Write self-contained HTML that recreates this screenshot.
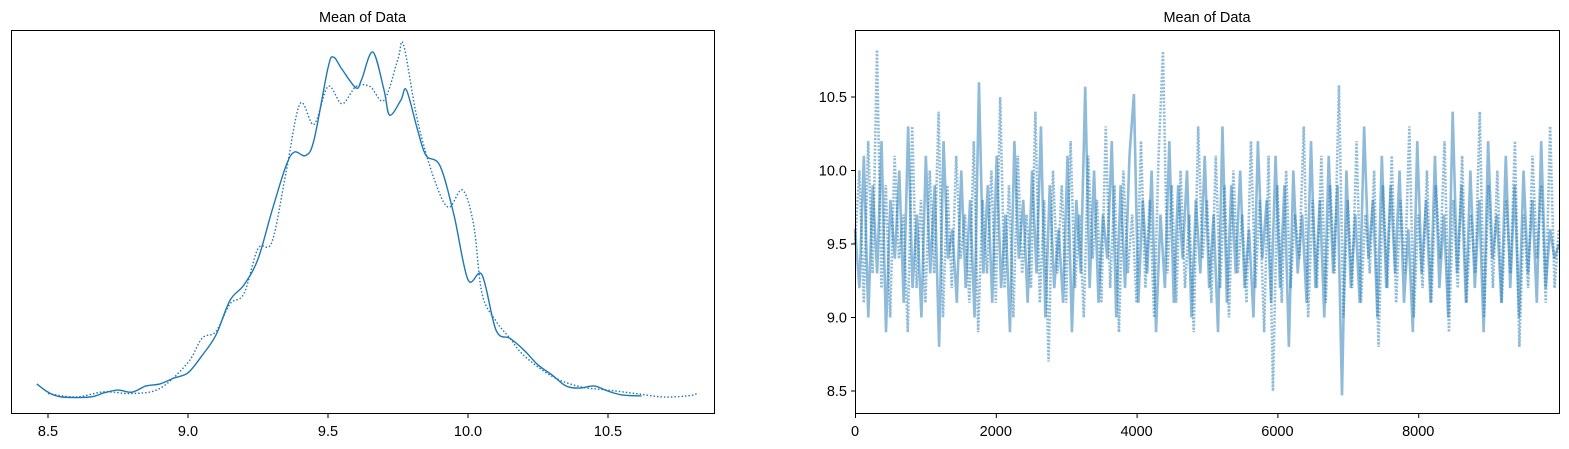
<!DOCTYPE html>
<html><head><meta charset="utf-8"><style>
html,body{margin:0;padding:0;background:#fff;}
svg{display:block;font-family:"Liberation Sans","DejaVu Sans",sans-serif;}
</style></head><body>
<svg id="fig" width="1569" height="449" viewBox="0 0 1569 449">
<g id="left"></g>
<g id="right"></g>
</svg>
<script>
// KDE chain 0 (solid)
const kdeX0 = [8.46,8.5,8.55,8.65,8.7,8.75,8.8,8.85,8.9,8.95,9.0,9.05,9.1,9.15,9.2,9.25,9.3,9.35,9.38,9.42,9.45,9.5,9.52,9.55,9.6,9.62,9.66,9.7,9.72,9.76,9.78,9.82,9.85,9.9,9.95,10.0,10.05,10.1,10.15,10.2,10.25,10.3,10.35,10.4,10.45,10.5,10.55,10.62];
const kdeY0 = [0.038,0.014,0,0,0.012,0.02,0.014,0.032,0.038,0.055,0.07,0.12,0.18,0.28,0.325,0.40,0.54,0.67,0.71,0.70,0.745,0.954,0.985,0.95,0.896,0.92,1.0,0.89,0.817,0.86,0.89,0.774,0.70,0.67,0.527,0.34,0.354,0.194,0.17,0.136,0.093,0.064,0.032,0.026,0.032,0.017,0.006,0.003];
// KDE chain 1 (dotted)
const kdeX1 = [8.5,8.6,8.7,8.8,8.9,9.0,9.05,9.1,9.15,9.2,9.25,9.3,9.35,9.4,9.45,9.5,9.55,9.6,9.65,9.7,9.75,9.77,9.82,9.88,9.93,9.98,10.02,10.05,10.1,10.15,10.2,10.3,10.4,10.5,10.6,10.7,10.8,10.82];
const kdeY1 = [0.01,0.0,0.015,0.01,0.025,0.1,0.17,0.19,0.27,0.3,0.43,0.45,0.65,0.85,0.79,0.9,0.85,0.9,0.9,0.86,0.98,1.02,0.8,0.63,0.55,0.6,0.5,0.3,0.22,0.17,0.12,0.06,0.03,0.02,0.01,0.0,0.005,0.015];
const kdeTicks = [8.5,9.0,9.5,10.0,10.5];
const kdeTickLabels = ["8.5","9.0","9.5","10.0","10.5"];
// trace samples (subsampled, estimated)
const traceA = [9.6,9.2,10.1,9.0,9.9,9.3,10.2,8.9,9.8,9.4,10.0,9.1,10.3,9.2,9.7,9.0,10.1,9.3,9.9,8.8,10.2,9.4,9.6,9.1,10.0,9.2,9.8,9.0,10.6,9.3,9.9,9.1,10.1,9.2,9.7,8.9,10.2,9.4,9.8,9.1,10.0,9.3,10.3,9.0,9.9,9.2,9.6,9.1,10.1,8.9,9.8,9.3,10.57,9.2,10.0,9.1,9.7,9.4,10.2,9.0,9.9,9.2,10.1,10.52,9.1,9.8,9.3,10.0,8.9,9.7,9.2,10.2,9.1,9.9,9.4,10.0,9.0,9.8,9.3,10.1,9.2,9.7,8.9,10.3,9.1,9.9,9.3,10.0,9.2,9.6,9.0,10.2,9.4,9.8,9.1,10.1,9.2,9.9,8.8,10.0,9.3,9.7,9.1,10.2,9.2,9.8,9.0,10.1,9.3,9.9,8.47,10.0,9.2,9.7,9.1,10.3,9.4,9.8,9.0,10.1,9.2,9.9,9.3,10.0,9.1,9.6,8.9,10.2,9.3,9.8,9.1,10.1,9.2,9.7,9.0,10.4,9.3,9.9,9.1,10.0,9.2,9.8,8.9,10.2,9.4,9.7,9.1,10.1,9.2,9.9,9.0,10.0,9.3,9.8,9.1,10.2,9.2,9.6,9.4,9.5];
const traceB = [9.5,10.0,9.1,10.2,9.3,10.82,9.2,9.9,9.0,10.1,9.4,9.7,8.9,10.3,9.2,9.8,9.1,10.0,9.3,10.4,9.0,9.9,9.2,10.1,9.4,9.7,9.1,10.2,8.9,9.8,9.3,10.0,9.1,10.5,9.2,9.9,9.0,10.1,9.3,9.7,9.2,10.4,9.1,9.8,8.7,10.0,9.3,9.9,9.1,10.2,9.2,9.7,9.0,10.1,9.4,9.8,9.1,10.3,9.2,9.9,8.9,10.0,9.3,9.7,9.1,10.2,9.2,9.8,9.0,10.1,10.81,9.3,9.9,9.1,10.0,9.2,9.7,8.9,10.3,9.4,9.8,9.1,10.1,9.2,9.9,9.0,10.0,9.3,9.7,9.1,10.2,9.2,9.8,8.9,10.1,8.5,9.9,9.1,10.0,9.2,9.7,9.4,10.3,9.0,9.8,9.2,10.1,9.1,9.9,9.3,10.58,9.0,9.8,9.2,10.2,9.1,9.7,9.3,10.0,8.8,9.9,9.2,10.1,9.1,9.8,9.3,10.3,9.0,9.7,9.2,10.0,9.1,9.9,9.4,10.2,8.9,9.8,9.2,10.1,9.1,9.7,9.3,10.4,9.0,9.9,9.2,10.0,9.1,9.8,9.3,10.2,8.8,9.7,9.2,10.1,9.4,9.9,9.1,10.3,9.2,9.6];
const traceYTicks = [8.5,9.0,9.5,10.0,10.5];
const traceYLabels = ["8.5","9.0","9.5","10.0","10.5"];
const traceXTicks = [0,2000,4000,6000,8000];
const traceXLabels = ["0","2000","4000","6000","8000"];
const nIter = 10000;

const NS="http://www.w3.org/2000/svg";
function el(tag,attrs,parent){const e=document.createElementNS(NS,tag);for(const k in attrs)e.setAttribute(k,attrs[k]);parent.appendChild(e);return e;}
const C="#1f77b4";
const FS=14.5;

// LEFT PANEL
const L={x0:11,x1:714,y0:30,y1:413};
const lx=v=>48+(v-8.5)*280;
const ly=d=>397-d*345;
const left=document.getElementById('left');
function smoothPath(xs,ys){
  const p=xs.map((x,i)=>[lx(x),ly(ys[i])]);
  let d="M"+p[0][0]+","+p[0][1];
  for(let i=0;i<p.length-1;i++){
    const p0=p[Math.max(0,i-1)],p1=p[i],p2=p[i+1],p3=p[Math.min(p.length-1,i+2)];
    const c1=[p1[0]+(p2[0]-p0[0])/6,p1[1]+(p2[1]-p0[1])/6];
    const c2=[p2[0]-(p3[0]-p1[0])/6,p2[1]-(p3[1]-p1[1])/6];
    d+=" C"+c1[0]+","+c1[1]+" "+c2[0]+","+c2[1]+" "+p2[0]+","+p2[1];
  }
  return d;
}
const k0=el('path',{d:smoothPath(kdeX0,kdeY0),fill:"none",stroke:C,"stroke-width":1.4},left);


const k1=el('path',{d:smoothPath(kdeX1,kdeY1),fill:"none",stroke:C,"stroke-width":1.4,"stroke-dasharray":"1.5,2"},left);


const lf=el('rect',{x:L.x0+0.5,y:L.y0+0.5,width:L.x1-L.x0,height:L.y1-L.y0,fill:"none",stroke:"#000","stroke-width":1},left);


kdeTicks.forEach((t,i)=>{
  const x=lx(t);
  const tk=el('line',{x1:x,x2:x,y1:L.y1+0.5,y2:L.y1+5,stroke:"#000","stroke-width":1},left);
  
  
  const tx=el('text',{x:x,y:L.y1+23,"text-anchor":"middle","font-size":FS,fill:"#000"},left);
  tx.textContent=kdeTickLabels[i];
  
  
});
const lt=el('text',{x:(L.x0+L.x1)/2,y:22,"text-anchor":"middle","font-size":FS,fill:"#000"},left);
lt.textContent="Mean of Data";



// RIGHT PANEL
const R={x0:855,x1:1559,y0:30,y1:413};
const rx=i=>R.x0+i*(R.x1-R.x0)/nIter;
const ry=v=>244-(v-9.5)*147;
const right=document.getElementById('right');
function trace(arr,dash,name){
  const pts=arr.map((v,i)=>rx(i*(nIter-1)/(arr.length-1))+","+ry(v)).join(" ");
  const a={points:pts,fill:"none",stroke:C,"stroke-opacity":0.5,"stroke-width":2.6,"stroke-linejoin":"bevel"};
  if(dash)a["stroke-dasharray"]="2,1.5";
  const p=el('polyline',a,right);
  
  
}
trace(traceA,false,'trace-chain-0');
trace(traceB,true,'trace-chain-1');
const rf=el('rect',{x:R.x0+0.5,y:R.y0+0.5,width:R.x1-R.x0,height:R.y1-R.y0,fill:"none",stroke:"#000","stroke-width":1},right);


traceXTicks.forEach((t,i)=>{
  const x=rx(t);
  const tk=el('line',{x1:x+0.5,x2:x+0.5,y1:R.y1+0.5,y2:R.y1+5,stroke:"#000","stroke-width":1},right);
  
  
  const tx=el('text',{x:x,y:R.y1+23,"text-anchor":"middle","font-size":FS,fill:"#000"},right);
  tx.textContent=traceXLabels[i];
  
  
});
traceYTicks.forEach((t,i)=>{
  const y=ry(t);
  const tk=el('line',{x1:R.x0-4,x2:R.x0+0.5,y1:y,y2:y,stroke:"#000","stroke-width":1},right);
  
  
  const tx=el('text',{x:R.x0-8,y:y+5,"text-anchor":"end","font-size":FS,fill:"#000"},right);
  tx.textContent=traceYLabels[i];
  
  
});
const rt=el('text',{x:(R.x0+R.x1)/2,y:22,"text-anchor":"middle","font-size":FS,fill:"#000"},right);
rt.textContent="Mean of Data";


</script>
</body></html>
